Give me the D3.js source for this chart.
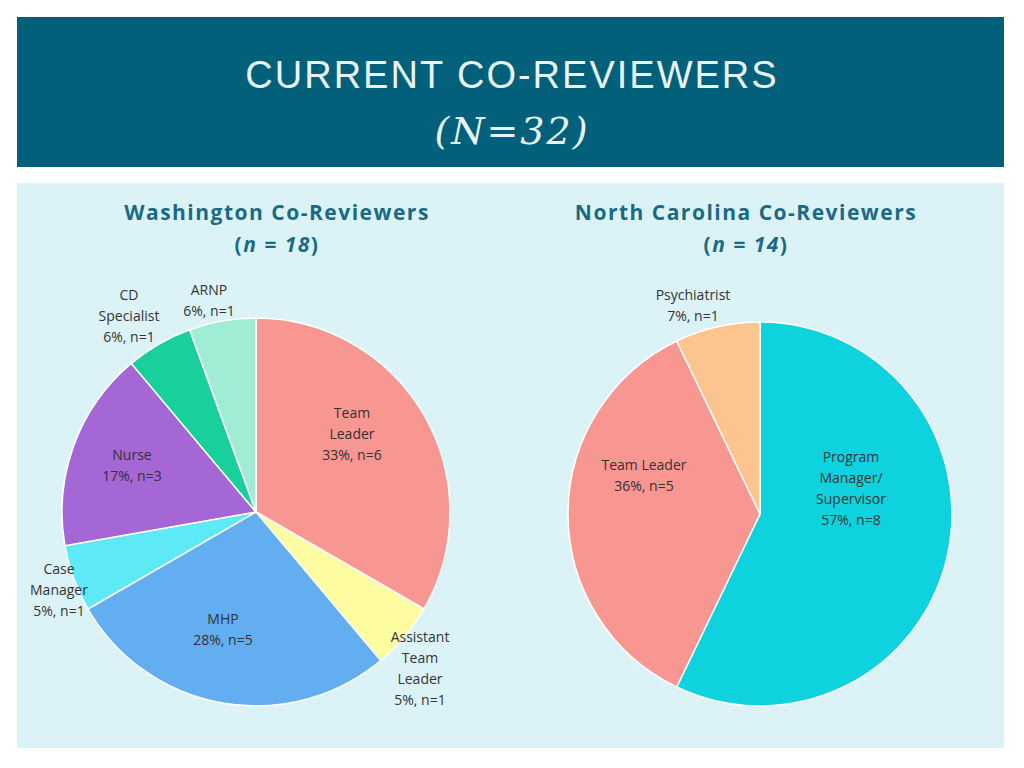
<!DOCTYPE html><html><head><meta charset="utf-8">
<script src="https://cdn.jsdelivr.net/npm/d3@7"></script>
<style>body{margin:0;background:#fff}svg{display:block}</style></head><body>
<svg id="c" width="1024" height="768"></svg>
<script>
const waCategories=["Team Leader","Assistant Team Leader","MHP","Case Manager","Nurse","CD Specialist","ARNP"];
const waValues=[6,1,5,1,3,1,1];
const waLabels=[["Team","Leader","33%, n=6"],["Assistant","Team","Leader","5%, n=1"],["MHP","28%, n=5"],["Case","Manager","5%, n=1"],["Nurse","17%, n=3"],["CD","Specialist","6%, n=1"],["ARNP","6%, n=1"]];
const waColors=["#f89691","#fdfca0","#62aef0","#5ee9f6","#a566d6","#19cf9b","#a1ecd5"];
const ncCategories=["Program Manager/Supervisor","Team Leader","Psychiatrist"];
const ncValues=[8,5,1];
const ncLabels=[["Program","Manager/","Supervisor","57%, n=8"],["Team Leader","36%, n=5"],["Psychiatrist","7%, n=1"]];
const ncColors=["#0fd2df","#f89691","#fcc58f"];

const svg=d3.select("#c");
svg.append("rect").attr("x",17).attr("y",17).attr("width",987).attr("height",150).attr("fill","#02607a");
svg.append("text").attr("x",512).attr("y",88).attr("text-anchor","middle").attr("fill","#e8f4f8")
 .attr("font-family","Liberation Sans, sans-serif").attr("font-size",38).attr("letter-spacing",2).text("CURRENT CO-REVIEWERS");
svg.append("text").attr("x",512).attr("y",144).attr("text-anchor","middle").attr("fill","#e8f4f8")
 .attr("font-family","DejaVu Serif, serif").attr("font-style","italic").attr("font-size",38).attr("letter-spacing",2).text("(N=32)");
svg.append("rect").attr("x",17).attr("y",183).attr("width",987).attr("height",565).attr("fill","#dbf3f7");

function heading(x,t,n){
 const g=svg.append("g").attr("font-family","Open Sans, sans-serif").attr("font-weight","bold").attr("font-size",21).attr("fill","#1a6a85").attr("text-anchor","middle").attr("letter-spacing",1.5);
 g.append("text").attr("x",x).attr("y",220).text(t);
 const t2=g.append("text").attr("x",x).attr("y",252);
 t2.append("tspan").text("(");t2.append("tspan").attr("font-style","italic").text("n = "+n);t2.append("tspan").text(")");
}
heading(277,"Washington Co-Reviewers",18);
heading(746,"North Carolina Co-Reviewers",14);

function pie(cx,cy,r,vals,cols,labels,pos){
 const arcs=d3.pie().sort(null)(vals);
 const arc=d3.arc().innerRadius(0).outerRadius(r);
 const g=svg.append("g").attr("transform",`translate(${cx},${cy})`);
 g.selectAll("path").data(arcs).join("path").attr("d",arc).attr("fill",(d,i)=>cols[i]).attr("stroke","#fff").attr("stroke-width",1.5);
 labels.forEach((l,i)=>{
  const t=svg.append("text").attr("font-family","Open Sans, sans-serif").attr("font-size",14).attr("fill","#333").attr("text-anchor","middle");
  l.forEach((s,j)=>t.append("tspan").attr("x",pos[i][0]).attr("y",pos[i][1]+j*21).text(s));
 });
}
pie(256,512,194,waValues,waColors,waLabels,[[352,418],[420,642],[223,624],[59,574],[132,460],[129,300],[209,295]]);
pie(760,514,192,ncValues,ncColors,ncLabels,[[851,462],[644,470],[693,300]]);
</script></body></html>
